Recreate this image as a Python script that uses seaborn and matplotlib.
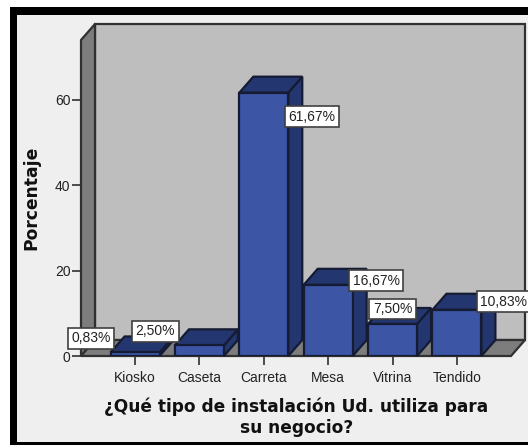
import matplotlib
matplotlib.use("Agg")
import matplotlib.pyplot as plt
import seaborn as sns
import pandas as pd
from matplotlib.patches import Polygon, Rectangle
from matplotlib.transforms import IdentityTransform

categories = ["Kiosko", "Caseta", "Carreta", "Mesa", "Vitrina", "Tendido"]
values = [0.83, 2.50, 61.67, 16.67, 7.50, 10.83]
labels = ["0,83%", "2,50%", "61,67%", "16,67%", "7,50%", "10,83%"]
y_ticks = [0, 20, 40, 60]
x_title_lines = ["¿Qué tipo de instalación Ud. utiliza para", "su negocio?"]
y_title = "Porcentaje"
# label-box offsets from each bar's top centre, in px (right, up)
label_off = [(-44, 14), (-44, 14), (48, -24), (48, 4), (0, 15), (47, 8)]

W, H = 528, 445
DX, DY = 14, 16
BLUE, DARK, EDGE = "#3C55A5", "#24366F", "#151B33"
WALL, SIDE, LINE = "#BEBEBE", "#7D7D7D", "#303030"

sns.set_theme(style="white")
plt.rcParams["font.family"] = ["Liberation Sans", "DejaVu Sans"]
fig = plt.figure(figsize=(W / 100, H / 100), dpi=100, facecolor="white")

# chart frame
fig.patches.append(Rectangle((10 / W, 0), 1, 1 - 7 / H, transform=fig.transFigure,
                             facecolor="black", edgecolor="none", zorder=-5))
fig.patches.append(Rectangle((17 / W, 3 / H), 1, 1 - 18 / H, transform=fig.transFigure,
                             facecolor="#EFEFEF", edgecolor="none", zorder=-4))

L, R, T, B = 81, 511, 40, 356
ax = fig.add_axes([L / W, 1 - B / H, (R - L) / W, (B - T) / H])
ax.set_zorder(2)
ax.patch.set_alpha(0)
df = pd.DataFrame({"cat": categories, "val": values})
sns.barplot(data=df, x="cat", y="val", color=BLUE, saturation=1, width=0.76,
            edgecolor=EDGE, linewidth=1.6, ax=ax, zorder=5)
ax.set_xlim(-0.84, 5.84)
ax.set_ylim(0, (B - T) / 4.27)
ax.set_yticks(y_ticks)
ax.set_xlabel("")
ax.set_ylabel(y_title, fontsize=12.3, fontweight="bold", family="DejaVu Sans", color="#111111")
ax.yaxis.set_label_coords(-0.095, 0.5)
ax.tick_params(axis="both", length=6.5, width=1.2, color=LINE, labelsize=10, labelcolor="#222222",
               bottom=True, left=True, pad=1)
ax.tick_params(axis="x", pad=4)
for s in ax.spines.values():
    s.set_visible(False)

# 3-D box: everything derives from the axes and bar geometry
h_disp = fig.get_size_inches()[1] * fig.dpi
def P(x, y):
    return (x, h_disp - y)
def poly(pts, fc, z, ec=LINE, lw=1.6):
    ax.add_patch(Polygon(pts, closed=True, transform=IdentityTransform(), facecolor=fc,
                         edgecolor=ec, linewidth=lw, zorder=z, clip_on=False))
poly([P(L + DX, T - DY), P(R + DX, T - DY), P(R + DX, B - DY), P(L + DX, B - DY)], WALL, 1)
poly([P(L, T), P(L + DX, T - DY), P(L + DX, B - DY), P(L, B)], SIDE, 2)
poly([P(L, B), P(L + DX, B - DY), P(R + DX, B - DY), P(R, B)], SIDE, 2)

fig.canvas.draw()
for bar in list(ax.containers[0]):
    (x0, y0), (x1, y1) = ax.transData.transform(
        [(bar.get_x(), bar.get_y()), (bar.get_x() + bar.get_width(), bar.get_y() + bar.get_height())])
    poly([(x1, y0), (x1 + DX, y0 + DY), (x1 + DX, y1 + DY), (x1, y1)], DARK, 4, ec=EDGE)
    poly([(x0, y1), (x0 + DX, y1 + DY), (x1 + DX, y1 + DY), (x1, y1)], DARK, 4, ec=EDGE)

for i, (v, t, off) in enumerate(zip(values, labels, label_off)):
    ax.annotate(t, xy=(i, v), xytext=off, textcoords="offset pixels", ha="center", va="center",
                fontsize=10, color="#222222", zorder=10, annotation_clip=False,
                bbox=dict(boxstyle="square,pad=0.25", facecolor="white", edgecolor="#404040", linewidth=1.2))

for line, yp in zip(x_title_lines, (407, 428)):
    fig.text(296.5 / W, 1 - yp / H, line, ha="center", va="center", family="DejaVu Sans",
             fontweight="bold", fontsize=12.25, color="#111111", zorder=3)

fig.savefig("out.png", dpi=100, facecolor="white")
